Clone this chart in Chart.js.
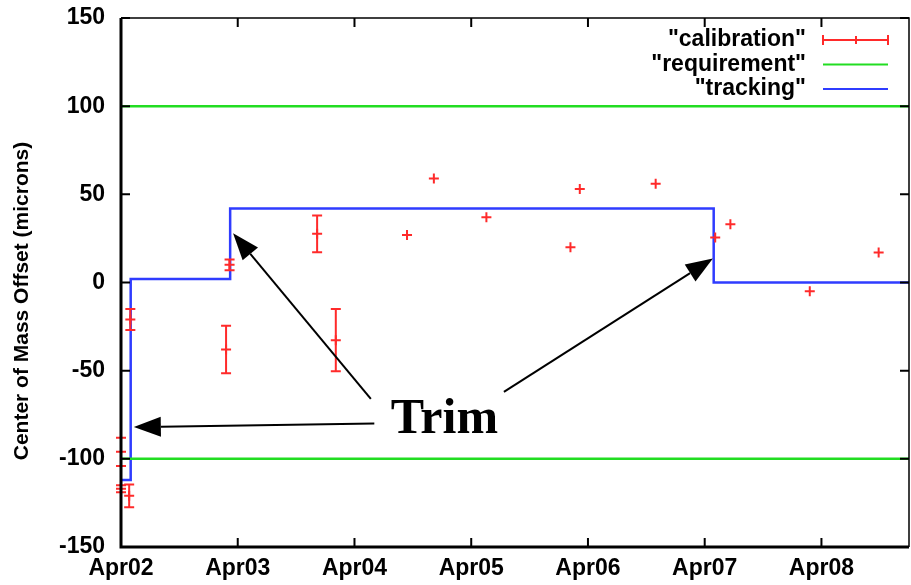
<!DOCTYPE html>
<html>
<head>
<meta charset="utf-8">
<script src="https://cdn.jsdelivr.net/npm/chart.js@4.4.0/dist/chart.umd.min.js"></script>
<style>
  html, body { margin: 0; padding: 0; background: #fff; }
  #wrap { width: 911px; height: 585px; }
</style>
</head>
<body>
<div id="wrap"><canvas id="grafico" width="911" height="585"></canvas></div>
<script>
// days after Apr02 00:00
const xLabels = ['Apr02', 'Apr03', 'Apr04', 'Apr05', 'Apr06', 'Apr07', 'Apr08'];
const yTicks = [-150, -100, -50, 0, 50, 100, 150];

const calX = [0.00, 0.00, 0.07, 0.08, 0.90, 0.93, 1.68, 1.84, 2.45, 2.68, 3.13, 3.85, 3.93, 4.58, 5.09, 5.22, 5.90, 6.49];
const calY = [-96, -117, -121, -21, -38, 10, 27.6, -32.7, 27, 59, 37, 20, 53, 56, 25.5, 33, -5, 17];
const calErr = [8, 2, 6.5, 6, 13.5, 3, 10.4, 17.7, 0, 0, 0, 0, 0, 0, 0, 0, 0, 0];

const trackX = [0, 0.083, 0.935, 5.077, 6.75];
const trackY = [-112, 2, 42, 0, 0];

const reqLevels = [100, -100];
const xMax = 6.75;

// "Trim" annotation: label position and arrow tails/tips, in data units
const trimPos = { x: 2.77, y: -78 };
const arrows = [
    { from: [2.17, -80], to: [0.11, -82] },
    { from: [2.14, -66], to: [0.96, 28] },
    { from: [3.28, -62], to: [5.07, 13.6] }
];

const legendItems = ['"calibration"', '"requirement"', '"tracking"'];

const fonte = '"Liberation Sans", Arial, sans-serif';
const vermelho = '#ff2a2a';
const verde = '#22dd22';
const azul = '#2f3cff';

function pontos(xs, ys) {
    return xs.map((x, i) => ({ x: x, y: ys[i] }));
}

let requisito = [];
reqLevels.forEach((v, i) => {
    if (i > 0) requisito.push({ x: xMax / 2, y: null });
    requisito.push({ x: 0, y: v });
    requisito.push({ x: xMax, y: v });
});

const barrasErro = {
    id: 'barrasErro',
    afterDatasetsDraw(chart) {
        const ctx = chart.ctx;
        const sx = chart.scales.x, sy = chart.scales.y;
        ctx.save();
        ctx.strokeStyle = vermelho;
        ctx.lineWidth = 2;
        calX.forEach((x, i) => {
            if (!calErr[i]) return;
            const px = sx.getPixelForValue(x);
            const y1 = sy.getPixelForValue(calY[i] + calErr[i]);
            const y2 = sy.getPixelForValue(calY[i] - calErr[i]);
            ctx.beginPath();
            ctx.moveTo(px, y1); ctx.lineTo(px, y2);
            ctx.moveTo(px - 5, y1); ctx.lineTo(px + 5, y1);
            ctx.moveTo(px - 5, y2); ctx.lineTo(px + 5, y2);
            ctx.stroke();
        });
        ctx.restore();
    }
};

const moldura = {
    id: 'moldura',
    afterDraw(chart) {
        const ctx = chart.ctx;
        const a = chart.chartArea;
        const sx = chart.scales.x, sy = chart.scales.y;
        ctx.save();
        ctx.strokeStyle = '#000';
        // inward ticks, mirrored on all sides
        ctx.lineWidth = 2;
        ctx.beginPath();
        for (let d = 1; d < xLabels.length; d++) {
            const px = sx.getPixelForValue(d);
            ctx.moveTo(px, a.bottom); ctx.lineTo(px, a.bottom - 9);
            ctx.moveTo(px, a.top); ctx.lineTo(px, a.top + 9);
        }
        yTicks.forEach(v => {
            const py = sy.getPixelForValue(v);
            ctx.moveTo(a.left, py); ctx.lineTo(a.left + 9, py);
            ctx.moveTo(a.right, py); ctx.lineTo(a.right - 9, py);
        });
        ctx.stroke();
        ctx.lineWidth = 1.5;
        ctx.beginPath();
        ctx.moveTo(a.left, a.top); ctx.lineTo(a.right, a.top); ctx.lineTo(a.right, a.bottom);
        ctx.stroke();
        ctx.lineWidth = 3;
        ctx.beginPath();
        ctx.moveTo(a.left, a.top); ctx.lineTo(a.left, a.bottom); ctx.lineTo(a.right, a.bottom);
        ctx.stroke();

        // y title
        ctx.fillStyle = '#000';
        ctx.font = 'bold 21px ' + fonte;
        ctx.textAlign = 'center';
        ctx.textBaseline = 'middle';
        ctx.translate(22, 301);
        ctx.rotate(-Math.PI / 2);
        ctx.fillText('Center of Mass Offset (microns)', 0, 0);
        ctx.restore();
    }
};

const anotacao = {
    id: 'anotacao',
    afterDraw(chart) {
        const ctx = chart.ctx;
        const sx = chart.scales.x, sy = chart.scales.y;
        ctx.save();
        ctx.strokeStyle = '#000';
        ctx.fillStyle = '#000';
        ctx.lineWidth = 2;
        arrows.forEach(s => {
            const x1 = sx.getPixelForValue(s.from[0]), y1 = sy.getPixelForValue(s.from[1]);
            const x2 = sx.getPixelForValue(s.to[0]), y2 = sy.getPixelForValue(s.to[1]);
            const ang = Math.atan2(y2 - y1, x2 - x1);
            const L = 27, W = 10;
            const bx = x2 - L * Math.cos(ang), by = y2 - L * Math.sin(ang);
            ctx.beginPath();
            ctx.moveTo(x1, y1); ctx.lineTo(bx, by);
            ctx.stroke();
            ctx.beginPath();
            ctx.moveTo(x2, y2);
            ctx.lineTo(bx + W * Math.sin(ang), by - W * Math.cos(ang));
            ctx.lineTo(bx - W * Math.sin(ang), by + W * Math.cos(ang));
            ctx.closePath();
            ctx.fill();
        });
        ctx.font = 'bold 50px "Liberation Serif", "Times New Roman", serif';
        ctx.textAlign = 'center';
        ctx.textBaseline = 'middle';
        ctx.fillText('Trim', sx.getPixelForValue(trimPos.x), sy.getPixelForValue(trimPos.y));

        // legend, gnuplot style: text right-aligned, sample on the right
        const cores = [vermelho, verde, azul];
        ctx.font = 'bold 23px ' + fonte;
        ctx.textAlign = 'right';
        legendItems.forEach((t, i) => {
            const y = 40 + i * 24.5;
            ctx.fillStyle = '#000';
            ctx.fillText(t, 806, y);
            ctx.strokeStyle = cores[i];
            ctx.lineWidth = 2;
            ctx.beginPath();
            ctx.moveTo(823, y); ctx.lineTo(888, y);
            if (i === 0) {
                ctx.moveTo(823, y - 5); ctx.lineTo(823, y + 5);
                ctx.moveTo(888, y - 5); ctx.lineTo(888, y + 5);
                ctx.moveTo(856, y - 4); ctx.lineTo(856, y + 4);
            }
            ctx.stroke();
        });
        ctx.restore();
    }
};

const grafico = new Chart(document.getElementById('grafico'), {
    type: 'scatter',
    data: {
        datasets: [{
            label: 'calibration',
            data: pontos(calX, calY),
            showLine: false,
            pointStyle: 'cross',
            pointRadius: 5,
            borderColor: vermelho,
            borderWidth: 2,
            clip: 10
        }, {
            label: 'requirement',
            data: requisito,
            showLine: true,
            spanGaps: false,
            pointRadius: 0,
            borderColor: verde,
            borderWidth: 2.5
        }, {
            label: 'tracking',
            data: pontos(trackX, trackY),
            showLine: true,
            stepped: true,
            pointRadius: 0,
            borderColor: azul,
            borderWidth: 2.5
        }]
    },
    options: {
        animation: false,
        responsive: false,
        devicePixelRatio: 1,
        layout: { autoPadding: false, padding: { left: 0, right: 2, top: 18, bottom: 0 } },
        plugins: { legend: { display: false }, tooltip: { enabled: false } },
        scales: {
            x: {
                type: 'linear',
                min: 0,
                max: xMax,
                grid: { display: false, drawTicks: false },
                border: { display: false },
                afterFit: s => { s.height = 38; s.paddingLeft = 0; s.paddingRight = 0; },
                afterBuildTicks: s => { s.ticks = xLabels.map((l, i) => ({ value: i })); },
                ticks: {
                    padding: 8,
                    color: '#000',
                    font: { family: fonte, size: 23, weight: 'bold' },
                    callback: v => xLabels[v]
                }
            },
            y: {
                min: -150,
                max: 150,
                grid: { display: false, drawTicks: false },
                border: { display: false },
                afterFit: s => { s.width = 121; s.paddingTop = 0; s.paddingBottom = 0; },
                afterBuildTicks: s => { s.ticks = yTicks.map(v => ({ value: v })); },
                ticks: {
                    padding: 16,
                    color: '#000',
                    font: { family: fonte, size: 23, weight: 'bold' }
                }
            }
        }
    },
    plugins: [barrasErro, moldura, anotacao]
});
</script>
</body>
</html>
